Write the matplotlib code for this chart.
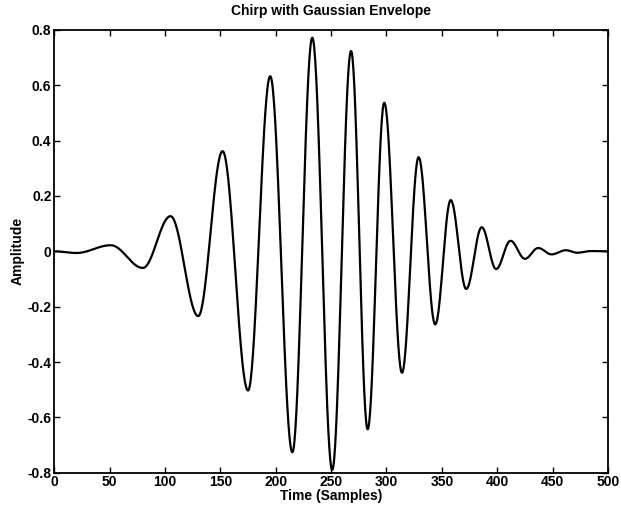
import numpy as np
import matplotlib
matplotlib.use("Agg")
import matplotlib.pyplot as plt

plt.rcParams['font.family'] = ['Liberation Sans', 'DejaVu Sans']

# Extrema of the signal (sample index, amplitude)
ext_x = [0, 20, 51, 80, 105, 130, 152, 175, 195, 215, 233, 251, 268, 283,
         298, 314, 329, 344, 358, 372, 386, 399, 412, 425, 437, 449, 462, 472, 485, 500]
ext_y = [0.0, -0.006, 0.022, -0.06, 0.127, -0.234, 0.362, -0.503, 0.633, -0.726,
         0.772, -0.79, 0.724, -0.643, 0.537, -0.439, 0.340, -0.264, 0.185, -0.136,
         0.087, -0.064, 0.038, -0.027, 0.012, -0.011, 0.004, -0.005, 0.001, 0.0]

x_ticks = [0, 50, 100, 150, 200, 250, 300, 350, 400, 450, 500]
y_ticks = [-0.8, -0.6, -0.4, -0.2, 0, 0.2, 0.4, 0.6, 0.8]
y_tick_labels = ['-0.8', '-0.6', '-0.4', '-0.2', '0', '0.2', '0.4', '0.6', '0.8']

# smooth drawing between consecutive extrema (half-cosine segments)
xs, ys = [], []
for i in range(len(ext_x) - 1):
    x0, x1 = ext_x[i], ext_x[i + 1]
    y0, y1 = ext_y[i], ext_y[i + 1]
    t = np.linspace(0, 1, 40, endpoint=False)
    xs.extend(x0 + (x1 - x0) * t)
    ys.extend(y0 + (y1 - y0) * (1 - np.cos(np.pi * t)) / 2)
xs.append(ext_x[-1]); ys.append(ext_y[-1])

fig = plt.figure(figsize=(6.21, 5.08), dpi=100)
ax = fig.add_axes([0.0874, 0.0695, 0.8916, 0.8715])
ax.plot(xs, ys, color='black', lw=1.6)
ax.set_xlim(0, 500)
ax.set_ylim(-0.8, 0.8)
ax.set_xticks(x_ticks)
ax.set_yticks(y_ticks)
ax.set_yticklabels(y_tick_labels)
ax.tick_params(direction='in', top=True, right=True, length=4, width=1.0,
               labelsize=10, pad=2)
for lab in ax.get_xticklabels() + ax.get_yticklabels():
    lab.set_fontweight('bold')
for s in ax.spines.values():
    s.set_linewidth(1.3)
ax.set_title('Chirp with Gaussian Envelope', fontsize=10, fontweight='bold', pad=11)
ax.set_xlabel('Time (Samples)', fontsize=10, fontweight='bold', labelpad=0)
ax.set_ylabel('Amplitude', fontsize=10, fontweight='bold', labelpad=2)
fig.savefig('out.png', dpi=100)
